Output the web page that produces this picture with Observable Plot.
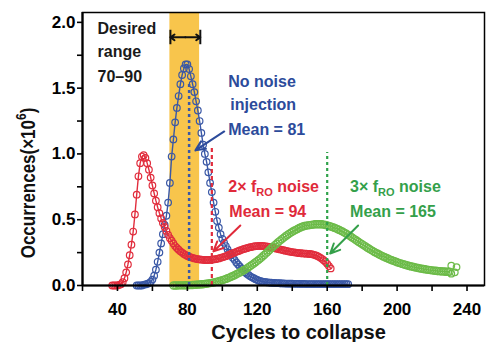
<!DOCTYPE html>
<html><head><meta charset="utf-8">
<script src="https://cdn.jsdelivr.net/npm/d3@7"></script>
<script src="https://cdn.jsdelivr.net/npm/@observablehq/plot@0.6"></script>
<style>body{margin:0;background:#fff}</style>
</head><body><div id="chart"></div>
<script>
// ---- data ----
const xTicks = [20, 40, 60, 80, 100, 120, 140, 160, 180, 200, 220, 240];
const xTickLabels = [40, 80, 120, 160, 200, 240];
const yTicks = [0, 0.25, 0.5, 0.75, 1, 1.25, 1.5, 1.75, 2];
const yTickLabels = [0, 0.5, 1, 1.5, 2];

// No noise injection (blue), one value per cycle starting at 51
const blueStart = 51, blueStep = 1;
const blueValues = [
  0, 0, 0, 0, 0.005, 0.008, 0.012, 0.018, 0.027, 0.045,          // 51-60
  0.075, 0.12, 0.18, 0.25, 0.32, 0.39, 0.46, 0.53, 0.63, 0.78,   // 61-70
  0.98, 1.11, 1.24, 1.35, 1.44, 1.53, 1.60, 1.65, 1.68, 1.68,    // 71-80
  1.645, 1.59, 1.53, 1.47, 1.40, 1.33, 1.25, 1.16, 1.07, 1.00,   // 81-90
  0.94, 0.86, 0.78, 0.71, 0.63, 0.56, 0.49, 0.44, 0.39, 0.355,   // 91-100
  0.325, 0.30, 0.275, 0.25, 0.23, 0.21, 0.195, 0.175, 0.16, 0.145, // 101-110
  0.13, 0.115, 0.10, 0.09, 0.08, 0.07, 0.062, 0.055, 0.048, 0.042, // 111-120
  0.037, 0.033, 0.03, 0.027, 0.025, 0.023, 0.022, 0.021, 0.02, 0.019, // 121-130
  0.018, 0.018, 0.017, 0.016, 0.016, 0.015, 0.015, 0.014, 0.014, 0.014, // 131-140
  0.013, 0.013, 0.013, 0.012, 0.012, 0.012, 0.012, 0.011, 0.011, 0.011, // 141-150
  0.011, 0.011, 0.01, 0.01, 0.01, 0.01, 0.01, 0.01, 0.01, 0.01,  // 151-160
  0.01, 0.01, 0.01, 0.01, 0.01, 0.01, 0.01, 0.01, 0.01, 0.01,    // 161-170
  0.01, 0.01                                                      // 171-172
];

// 2x fRO noise (red), one value per cycle starting at 37
const redStart = 37, redStep = 1;
const redValues = [
  0, 0, 0, 0, 0.004, 0.01, 0.025, 0.055, 0.10, 0.16,              // 37-46
  0.23, 0.31, 0.41, 0.54, 0.69, 0.83, 0.93, 0.98, 0.99, 0.97,     // 47-56
  0.93, 0.88, 0.82, 0.76, 0.70, 0.645, 0.595, 0.55, 0.51, 0.475,  // 57-66
  0.445, 0.415, 0.385, 0.36, 0.34, 0.32, 0.30, 0.285, 0.272, 0.26, // 67-76
  0.25, 0.24, 0.232, 0.225, 0.219, 0.214, 0.21, 0.206, 0.203, 0.2, // 77-86
  0.198, 0.196, 0.195, 0.194, 0.194, 0.194, 0.195, 0.196, 0.198, 0.2, // 87-96
  0.203, 0.206, 0.21, 0.214, 0.218, 0.223, 0.228, 0.234, 0.24, 0.245, // 97-106
  0.25, 0.256, 0.261, 0.266, 0.271, 0.276, 0.28, 0.284, 0.288, 0.291, // 107-116
  0.294, 0.297, 0.299, 0.30, 0.301, 0.301, 0.301, 0.30, 0.298, 0.296, // 117-126
  0.293, 0.29, 0.287, 0.284, 0.28, 0.277, 0.274, 0.271, 0.268, 0.265, // 127-136
  0.262, 0.259, 0.256, 0.254, 0.252, 0.25, 0.248, 0.246, 0.245, 0.244, // 137-146
  0.243, 0.242, 0.241, 0.24, 0.238, 0.235, 0.231, 0.226, 0.22, 0.212, // 147-156
  0.203, 0.192, 0.18, 0.165, 0.148, 0.13                          // 157-162
];

// 3x fRO noise (green), one value per cycle starting at 72
const greenStart = 72, greenStep = 1;
const greenValues = [
  0, 0, 0, 0.001, 0.001, 0.001, 0.001, 0.002, 0.002, 0.003,               // 72-81
  0.003, 0.004, 0.005, 0.006, 0.007, 0.008, 0.009, 0.01, 0.012, 0.014,    // 82-91
  0.016, 0.018, 0.02, 0.023, 0.026, 0.029, 0.033, 0.037, 0.041, 0.045,   // 92-101
  0.05, 0.055, 0.06, 0.066, 0.072, 0.078, 0.085, 0.092, 0.099, 0.106,    // 102-111
  0.114, 0.122, 0.13, 0.139, 0.148, 0.157, 0.167, 0.177, 0.187, 0.197,   // 112-121
  0.208, 0.22, 0.232, 0.244, 0.257, 0.27, 0.283, 0.295, 0.307, 0.318,    // 122-131
  0.33, 0.341, 0.352, 0.362, 0.372, 0.382, 0.391, 0.4, 0.408, 0.416,     // 132-141
  0.423, 0.43, 0.437, 0.443, 0.448, 0.452, 0.455, 0.457, 0.459, 0.461,   // 142-151
  0.463, 0.465, 0.466, 0.466, 0.466, 0.465, 0.463, 0.46, 0.457, 0.453,   // 152-161
  0.449, 0.444, 0.439, 0.434, 0.428, 0.422, 0.415, 0.408, 0.4, 0.393,    // 162-171
  0.385, 0.376, 0.367, 0.358, 0.349, 0.34, 0.331, 0.322, 0.313, 0.305,   // 172-181
  0.296, 0.287, 0.279, 0.271, 0.263, 0.255, 0.248, 0.241, 0.234, 0.227,  // 182-191
  0.221, 0.215, 0.209, 0.203, 0.197, 0.192, 0.187, 0.182, 0.177, 0.172,  // 192-201
  0.168, 0.164, 0.16, 0.156, 0.152, 0.148, 0.145, 0.142, 0.139, 0.136,   // 202-211
  0.133, 0.13, 0.128, 0.125, 0.123, 0.121, 0.119, 0.117, 0.115, 0.113,   // 212-221
  0.112, 0.11, 0.109, 0.108, 0.107, 0.106, 0.105, 0.104, 0.104           // 222-230
];
const greenEndX = [231, 234, 231, 233];
const greenEndY = [0.15, 0.14, 0.09, 0.10];

// means (dashed lines): position and height
const meanX = [81, 94, 160];
const meanTop = [1.55, 1.05, 1.01];

// desired range band
const bandLo = 70, bandHi = 87;

// annotation texts (left edge x, baseline y, in data units)
const blueLabels = ["No noise", "injection", "Mean = 81"];
const blueLabelX = [103.4, 104.6, 103.4];
const blueLabelY = [1.506, 1.331, 1.141];
const redLabels = ["2× fRO noise", "Mean = 94"];
const redLabelX = [103.4, 104.0];
const redLabelY = [0.707, 0.517];
const greenLabels = ["3× fRO noise", "Mean = 165"];
const greenLabelX = [173.1, 173.1];
const greenLabelY = [0.707, 0.517];
const rangeLabels = ["Desired", "range", "70–90"];
const rangeLabelX = [28.6, 28.6, 28.6];
const rangeLabelY = [1.914, 1.736, 1.546];
const yTitle = "Occurrences(×10^6)", yTitleY = 0.94;
const xTitle = "Cycles to collapse";

// arrows [x1, y1, x2, y2]
const blueArrow = [101.1, 1.171, 84.6, 1.027];
const redArrow = [110.3, 0.456, 94.9, 0.259];
const greenArrow = [177.7, 0.456, 161.7, 0.243];
const rangeArrowY = 1.886, rangeBarY1 = 1.83, rangeBarY2 = 1.94;
const rangeArrowX = [70.3, 87.4];

// ---- colours ----
const BLUE = "#3a58a6", BLUE_T = "#2c4b9b";
const RED = "#e12d3d", RED_T = "#e02a3a";
const GREEN = "#6cbb48", GREEN_T = "#34a04a";
const BAND = "#f8c54c";

// ---- helpers ----
const series = (start, step, vals) => vals.map((v, i) => ({x: start + i * step, y: v}));
const blueRows = series(blueStart, blueStep, blueValues);
const redRows = series(redStart, redStep, redValues);
const greenRows = series(greenStart, greenStep, greenValues);
const greenEnd = greenEndX.map((x, i) => ({x, y: greenEndY[i]}));
const labelRows = (t, xs, ys) => t.map((s, i) => ({label: s, x: xs[i], y: ys[i]}));
const arrowRow = a => [{x1: a[0], y1: a[1], x2: a[2], y2: a[3]}];
const mid = (rangeArrowX[0] + rangeArrowX[1]) / 2;

const curve = (rows, color, r = 3.3) => [
  Plot.line(rows, {x: "x", y: "y", stroke: color, strokeWidth: 1.4}),
  Plot.dot(rows, {x: "x", y: "y", r, stroke: color, strokeWidth: 1.2, fill: "none"})
];
const meanRule = (i, color, dash, w) =>
  Plot.ruleX([meanX[i]], {x: d => d, y1: 0, y2: meanTop[i], stroke: color, strokeWidth: w, strokeDasharray: dash});
const labels = (rows, color) =>
  Plot.text(rows, {x: "x", y: "y", text: "label", fill: color, textAnchor: "start", lineAnchor: "bottom", fontSize: 16, fontWeight: "bold"});
const arrow = (a, color) =>
  Plot.arrow(arrowRow(a), {x1: "x1", y1: "y1", x2: "x2", y2: "y2", stroke: color, strokeWidth: 2, headLength: 8, headAngle: 50});

const chart = Plot.plot({
  width: 488, height: 342,
  marginLeft: 82, marginRight: 4, marginTop: 12, marginBottom: 57,
  x: {domain: [20, 250]},
  y: {domain: [0, 2.075]},
  style: {fontFamily: "'Liberation Sans', Arial, sans-serif", fontSize: "16px", fontWeight: "bold", background: "white", color: "black"},
  marks: [
    Plot.rect([{lo: bandLo, hi: bandHi}], {x1: "lo", x2: "hi", fill: BAND}),
    ...curve(blueRows, BLUE),
    ...curve(redRows, RED),
    ...curve(greenRows, GREEN, 3.6),
    Plot.dot(greenEnd, {x: "x", y: "y", r: 3.3, stroke: GREEN, strokeWidth: 1.2, fill: "none"}),
    meanRule(0, BLUE, "3,3", 2.5),
    meanRule(1, RED, "4,3", 2.2),
    meanRule(2, "#2fa24a", "3,3", 2.2),
    Plot.frame({stroke: "black", strokeWidth: 1.5}),
    Plot.axisY({ticks: yTicks, tickSize: 5, tickPadding: 2, strokeWidth: 1.6,
      tickFormat: d => yTickLabels.includes(d) ? d.toFixed(1) : "", label: null, fontSize: 17, fontWeight: "bold"}),
    Plot.axisX({ticks: xTicks, tickSize: 6, tickPadding: 11, strokeWidth: 1.6,
      tickFormat: d => xTickLabels.includes(d) ? String(d) : "", label: null, fontSize: 17, fontWeight: "bold"}),
    Plot.ruleX([20], {stroke: "black", strokeWidth: 2.2}),
    Plot.ruleY([0], {stroke: "black", strokeWidth: 2.2}),
    labels(labelRows(rangeLabels, rangeLabelX, rangeLabelY), "#1a1a1a"),
    labels(labelRows(blueLabels, blueLabelX, blueLabelY), BLUE_T),
    labels(labelRows(redLabels, redLabelX, redLabelY), RED_T),
    labels(labelRows(greenLabels, greenLabelX, greenLabelY), GREEN_T),
    arrow(blueArrow, BLUE_T),
    arrow(redArrow, RED_T),
    arrow(greenArrow, GREEN_T),
    Plot.arrow(rangeArrowX.map(x => ({x1: mid, x2: x})), {x1: "x1", x2: "x2", y1: rangeArrowY, y2: rangeArrowY, stroke: "#111", strokeWidth: 2, headLength: 7, headAngle: 70}),
    Plot.ruleX(rangeArrowX, {x: d => d, y1: rangeBarY1, y2: rangeBarY2, stroke: "#111", strokeWidth: 2}),
    Plot.text([{t: yTitle, y: yTitleY}], {text: "t", y: "y", frameAnchor: "left", textAnchor: "middle", rotate: -90, fontSize: 17, fontWeight: "bold", fill: "#111"}),
    Plot.text([xTitle], {frameAnchor: "bottom", lineAnchor: "bottom", dx: 15, dy: 53, fontSize: 20, fontWeight: "bold", fill: "#111"})
  ]
});

// subscripts / superscripts as real text spans
d3.select(chart).selectAll("text").each(function () {
  const t = this.textContent;
  const s = d3.select(this);
  if (t.includes("fRO")) {
    const [a, b] = t.split("RO");
    s.text(null);
    s.append("tspan").text(a);
    s.append("tspan").attr("font-size", 11).attr("dy", 4).text("RO");
    s.append("tspan").attr("dy", -4).text(b);
  } else if (t.includes("^6")) {
    const [a, b] = t.split("^6");
    s.text(null);
    d3.select(this.parentNode).attr("transform", null);
    s.attr("x", null).attr("y", null).attr("dy", null)
     .attr("text-anchor", "middle")
     .attr("transform", "translate(35,183) rotate(-90) scale(1,1.15)");
    s.append("tspan").text(a);
    s.append("tspan").attr("font-size", 12).attr("dy", -8).text("6");
    s.append("tspan").attr("dy", 8).text(b);
  }
});
document.getElementById("chart").appendChild(chart);
</script>
</body></html>
